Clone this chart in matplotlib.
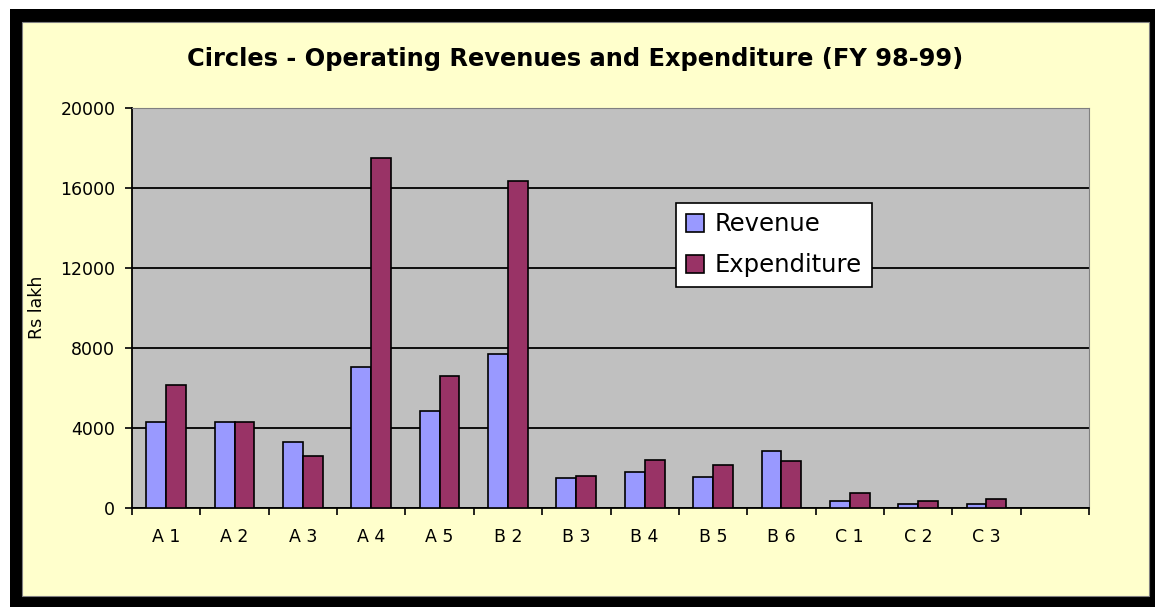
import numpy as np
import matplotlib.pyplot as plt
from matplotlib.patches import Rectangle

# data (Rs lakh)
circles = ['A 1', 'A 2', 'A 3', 'A 4', 'A 5', 'B 2', 'B 3', 'B 4', 'B 5', 'B 6', 'C 1', 'C 2', 'C 3', '']
revenue = [4270, 4270, 3290, 7040, 4820, 7670, 1500, 1770, 1520, 2850, 350, 185, 185, 0]
expenditure = [6150, 4270, 2590, 17490, 6600, 16320, 1600, 2400, 2135, 2320, 720, 350, 435, 0]

plt.rcParams['font.family'] = ['DejaVu Sans']

W, H = 1155, 607
fig = plt.figure(figsize=(W / 100, H / 100), dpi=100)
fig.patch.set_facecolor('white')

# black frame and yellow chart area
fig.add_artist(Rectangle((10 / W, 0), 1 - 10 / W, 1 - 9 / H, transform=fig.transFigure,
                         facecolor='black', edgecolor='none', zorder=0))
fig.add_artist(Rectangle((22 / W, 11 / H), (1149 - 22) / W, (596 - 22) / H, transform=fig.transFigure,
                         facecolor='#FFFFCC', edgecolor='#808080', linewidth=0.8, zorder=0))

ax = fig.add_axes([132 / W, (H - 507.7) / H, (1089 - 132) / W, 400 / H])
ax.set_facecolor('#C0C0C0')

x = np.arange(len(circles)) + 0.5
bw = 0.29
ax.bar(x - bw / 2, revenue, bw, color='#9999FF', edgecolor='black', linewidth=1.2,
       label='Revenue', zorder=3)
ax.bar(x + bw / 2, expenditure, bw, color='#993366', edgecolor='black', linewidth=1.2,
       label='Expenditure', zorder=3)

ax.set_xlim(0, len(circles))
ax.set_ylim(0, 20000)
ax.set_yticks(np.arange(0, 20001, 4000))
ax.yaxis.grid(True, color='black', linewidth=1.3, zorder=1)
ax.set_axisbelow(True)

# category labels centred, ticks on category boundaries
ax.set_xticks(np.arange(len(circles) + 1))
ax.set_xticklabels([])
ax.set_xticks(x, minor=True)
ax.set_xticklabels(circles, minor=True, fontsize=12.5)
ax.tick_params(axis='x', which='minor', length=0, pad=14.5)
ax.tick_params(axis='x', which='major', length=5, width=1.2, direction='out', color='black')
ax.tick_params(axis='y', length=5, width=1.2, direction='out', pad=7, labelsize=12.5)

for side in ['top', 'right']:
    ax.spines[side].set_color('#808080')
ax.spines['left'].set_linewidth(1.3)
ax.spines['bottom'].set_linewidth(1.3)

ax.set_ylabel('Rs lakh', fontsize=12.5, va='center')
ax.yaxis.set_label_coords((37 - 132) / 957, 0.5)

fig.text(575 / W, 1 - 59 / H, 'Circles - Operating Revenues and Expenditure (FY 98-99)',
         ha='center', va='center', fontsize=17.4, fontweight='bold')

leg = ax.legend(loc='upper left', bbox_to_anchor=((676 - 132) / 957, (507.7 - 202.7) / 400),
                prop={'size': 17.5},
                fancybox=False, framealpha=1, edgecolor='black', handlelength=0.75,
                handleheight=0.75, handletextpad=0.45, borderpad=0.4, labelspacing=0.7,
                borderaxespad=0)
leg.get_frame().set_linewidth(1.2)

fig.savefig('out.png', dpi=100)
